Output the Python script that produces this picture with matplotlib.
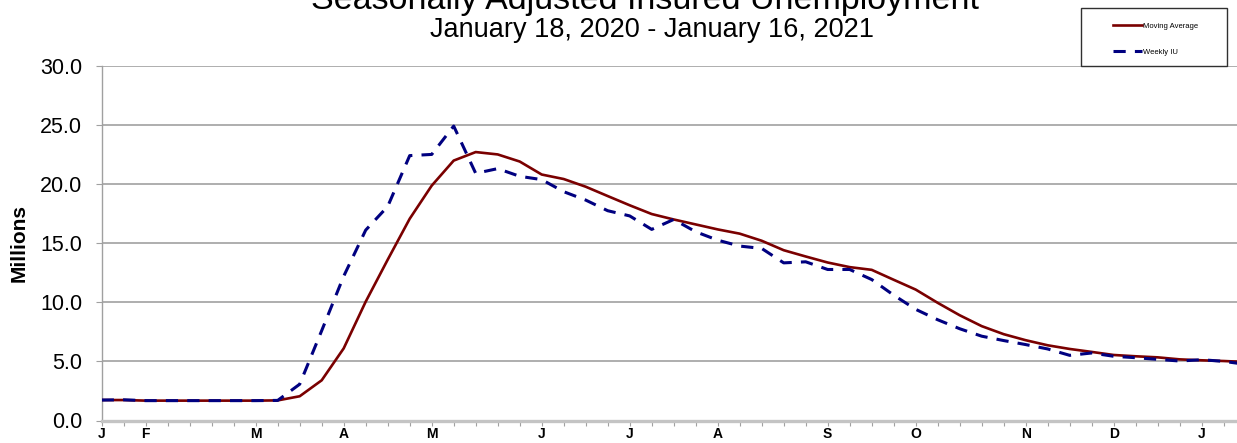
import numpy as np
import matplotlib.pyplot as plt
from matplotlib.patches import Rectangle

plt.rcParams['font.family'] = ['Liberation Sans', 'DejaVu Sans']

# weeks since Jan 18, 2020 (weekly data through Jan 16, 2021)
weeks = np.arange(53)

# millions, seasonally adjusted
moving_avg = [1.73, 1.73, 1.68, 1.68, 1.68, 1.68, 1.68, 1.68, 1.70, 2.05,
              3.40, 6.10, 10.05, 13.60, 17.06, 19.86, 21.98, 22.70, 22.50, 21.90,
              20.80, 20.42, 19.77, 18.98, 18.20, 17.46, 17.00, 16.58, 16.16, 15.80,
              15.20, 14.40, 13.87, 13.36, 12.97, 12.74, 11.90, 11.07, 9.95, 8.90,
              7.98, 7.30, 6.79, 6.36, 6.05, 5.80, 5.54, 5.43, 5.34, 5.17,
              5.09, 5.03, 4.95]
weekly_iu = [1.73, 1.75, 1.68, 1.68, 1.68, 1.68, 1.68, 1.68, 1.70, 3.07,
             7.60, 12.20, 16.10, 18.10, 22.40, 22.50, 24.90, 20.90, 21.30, 20.65,
             20.37, 19.35, 18.64, 17.74, 17.30, 16.16, 17.00, 15.96, 15.25, 14.75,
             14.55, 13.33, 13.42, 12.77, 12.77, 11.92, 10.60, 9.40, 8.52, 7.76,
             7.13, 6.76, 6.42, 6.05, 5.51, 5.71, 5.43, 5.31, 5.17, 5.03,
             5.14, 5.00, 4.75]

month_weeks = [0, 2, 7, 11, 15, 20, 24, 28, 33, 37, 42, 46, 50]
month_letters = ['J', 'F', 'M', 'A', 'M', 'J', 'J', 'A', 'S', 'O', 'N', 'D', 'J']
y_ticks = [0, 5, 10, 15, 20, 25, 30]

W, H = 1237, 443
fig = plt.figure(figsize=(W / 100, H / 100), dpi=100)
ax = fig.add_axes([101.7 / W, (H - 420.5) / H, (W - 101.7) / W, (420.5 - 65.5) / H])

ax.plot(weeks, moving_avg, color='#7a0000', lw=1.9, label='Moving Average', zorder=3)
ax.plot(weeks, weekly_iu, color='#000080', lw=2.2, dashes=(4, 3), label='Weekly IU', zorder=4)

ax.set_xlim(0, (W - 101.7) / 22.0)
ax.set_ylim(0, 30.02)

# weekly ticks, month letters at the first week of each month
tick_pos = weeks[:52]
tick_lab = ['' for _ in tick_pos]
for w, m in zip(month_weeks, month_letters):
    tick_lab[w] = m
ax.set_xticks(tick_pos)
ax.set_xticklabels(tick_lab, fontsize=10, fontweight='bold')
ax.tick_params(axis='x', length=3.4, color='#a0a0a0', pad=1.5)

ax.set_yticks(y_ticks)
ax.set_yticklabels(['%.1f' % v for v in y_ticks], fontsize=15.5)
ax.tick_params(axis='y', length=4, color='#a0a0a0', pad=10)
ax.yaxis.grid(True, color='#a8a8a8', lw=1.3)
ax.set_axisbelow(True)

for s in ['top', 'right']:
    ax.spines[s].set_visible(False)
ax.spines['left'].set_color('#a0a0a0')
ax.spines['left'].set_linewidth(1.0)
ax.spines['bottom'].set_color('#c4c4c4')
ax.spines['bottom'].set_linewidth(2.4)

ax.set_ylabel('Millions', fontsize=15, fontweight='bold', labelpad=8)

fig.text(645 / W, 1 - 8.5 / H, 'Seasonally Adjusted Insured Unemployment',
         ha='center', va='baseline', fontsize=24.5)
fig.text(652 / W, 1 - 36.7 / H, 'January 18, 2020 - January 16, 2021',
         ha='center', va='baseline', fontsize=19.5)

# legend box
fig.patches.append(Rectangle((1081 / W, 1 - 65.5 / H), 146 / W, 57.5 / H,
                             transform=fig.transFigure, fill=False,
                             edgecolor='#303030', lw=1.0))
ax.legend(loc='upper left', bbox_to_anchor=(1109 / W, 1 - 18.5 / H),
          bbox_transform=fig.transFigure, frameon=False, fontsize=5.5,
          borderpad=0, handlelength=3.8, handletextpad=0.15, labelspacing=2.5)

plt.savefig('out.png', dpi=100)
